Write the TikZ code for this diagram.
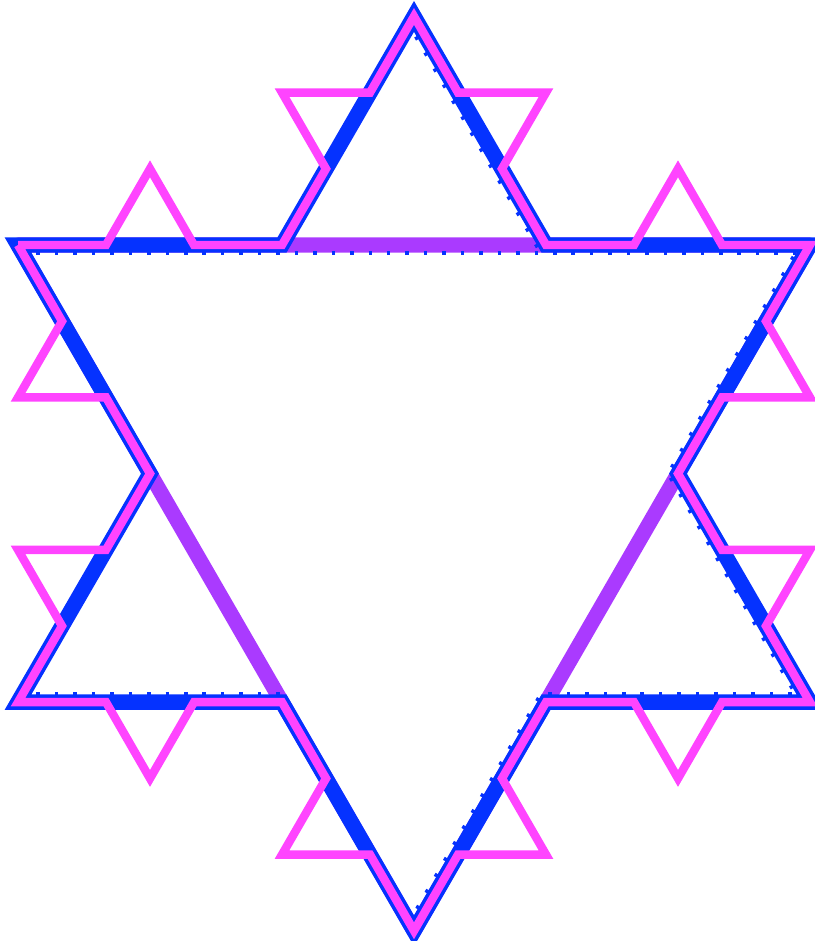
\documentclass[tikz,border=0pt]{standalone}
\usetikzlibrary{calc,decorations.fractals}
\definecolor{kochblue}{RGB}{5,50,255}
\definecolor{kochpurple}{RGB}{170,58,255}
\definecolor{kochpink}{RGB}{255,68,255}

\begin{document}
\begin{tikzpicture}[x=0.02cm, y=-0.02cm,
  base/.style={draw=kochpurple, line width=8.6pt, line join=round},
  stepone/.style={draw=kochblue, line width=8.8pt},
  ticks/.style={draw=kochblue, line width=2.6pt, dash pattern=on 2pt off 8.5pt},
  steptwo/.style={draw=kochpink, line width=4.8pt, decoration=Koch snowflake}]
\useasboundingbox (0,0) rectangle (815,941);
% corners of the first step
\coordinate (a0) at (18,245);
\coordinate (a1) at (282,245);
\coordinate (a2) at (414,16.4);
\coordinate (a3) at (546,245);
\coordinate (a4) at (810,245);
\coordinate (b1) at (678,473.6);
\coordinate (b2) at (810,702.2);
\coordinate (b3) at (546,702.2);
\coordinate (b4) at (414,930.8);
\coordinate (c1) at (282,702.2);
\coordinate (c2) at (18,702.2);
\coordinate (c3) at (150,473.6);
% step 0
\draw[base] (a0) -- (a4) -- (b4) -- cycle;
% step 1
\draw[stepone] (a0) -- (a1) -- (a2) -- (a3) -- (a4) -- (b1) -- (b2) -- (b3)
  -- (b4) -- (c1) -- (c2) -- (c3) -- cycle;
\draw[ticks] ([shift={(0,8)}]a0) -- ([shift={(0,8)}]a4);
\draw[ticks] ([shift={(-7,4)}]a2) -- ([shift={(-7,4)}]a3);
\draw[ticks] ([shift={(-7,-4)}]a4) -- ([shift={(-7,-4)}]b1);
\draw[ticks] ([shift={(-7,4)}]b1) -- ([shift={(-7,4)}]b2);
\draw[ticks] ([shift={(0,-8)}]b2) -- ([shift={(0,-8)}]b3);
\draw[ticks] ([shift={(-7,-4)}]b3) -- ([shift={(-7,-4)}]b4);
\draw[ticks] ([shift={(0,-8)}]c2) -- ([shift={(0,-8)}]c1);
% step 2
\draw[steptwo, shift={(2,3)}] decorate{(a0) -- (a1) -- (a2) -- (a3) -- (a4)
  -- (b1) -- (b2) -- (b3) -- (b4) -- (c1) -- (c2) -- (c3) -- cycle};
\end{tikzpicture}
\end{document}
